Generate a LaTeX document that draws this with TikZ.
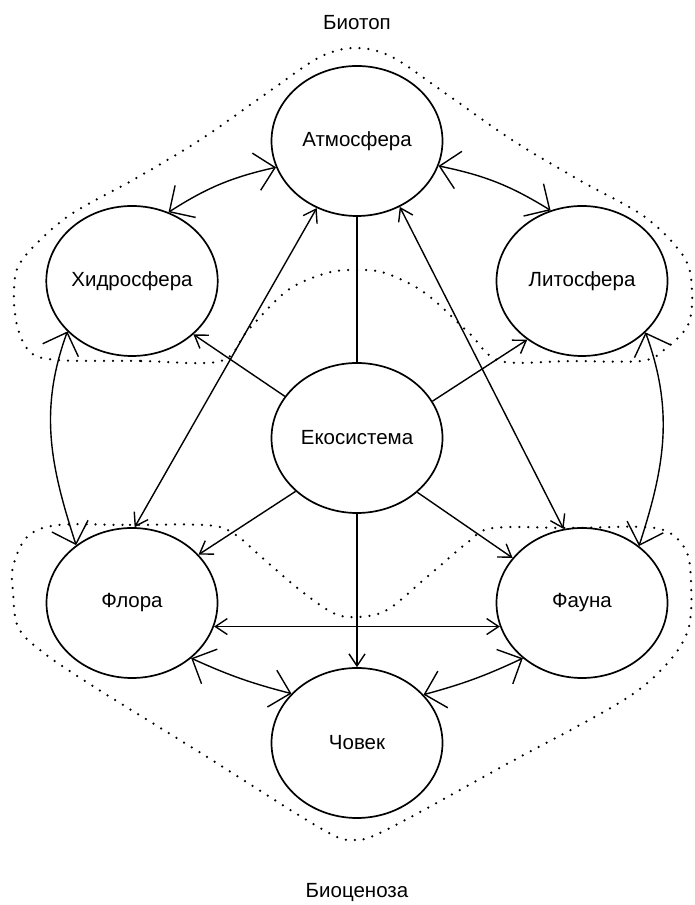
\documentclass[tikz,border=0pt]{standalone}
\usepackage{fontspec}
\setmainfont{Liberation Sans}
\usetikzlibrary{shapes.geometric,arrows.meta}
\begin{document}
\begin{tikzpicture}[x=1pt,y=1pt,
  every node/.style={font=\fontsize{20.5}{24}\selectfont},
  sphere/.style={draw, ellipse, line width=1.7pt, minimum width=171pt, minimum height=150pt, inner sep=0pt},
  region/.style={line width=2.5pt, line cap=round, dash pattern=on 0pt off 9pt},
  bigboth/.style={line width=1.4pt, {Straight Barb[length=19pt,width=38pt]}-{Straight Barb[length=19pt,width=38pt]}},
  smallboth/.style={line width=1.4pt, {Straight Barb[length=12pt,width=16pt]}-{Straight Barb[length=12pt,width=16pt]}},
  smallto/.style={line width=1.4pt, -{Straight Barb[length=12pt,width=16pt]}},
  plain/.style={line width=1.4pt}
]
\useasboundingbox (0,0) rectangle (694,905);

% regions
\draw[region] plot[smooth cycle, tension=0.55] coordinates {
 (221,544) (140,544) (58,545) (30,553) (17,580) (14,615) (22,645) (67,688)
 (133,725) (200,765) (267,812) (320,848) (356,857) (392,848) (445,812)
 (512,765) (579,725) (645,688) (684,648) (692,615) (688,580) (664,555)
 (641,544) (570,544) (500,544) (469,572) (425,612) (385,632) (356,635)
 (327,632) (288,615) (248,575)};

\draw[region] plot[smooth cycle, tension=0.55] coordinates {
 (58,380) (130,380) (205,380) (233,372) (267,343) (300,315) (333,292)
 (357,288) (387,295) (427,328) (467,362) (493,377) (570,377) (655,377)
 (684,358) (691,325) (688,275) (664,238) (619,202) (505,140) (390,77)
 (354,65) (320,77) (204,150) (88,222) (40,255) (18,278) (13,312)
 (13,338) (27,368)};

% nodes
\node[sphere] (A) at (357,764) {Атмосфера};
\node[sphere] (H) at (132,624) {Хидросфера};
\node[sphere] (L) at (582,624) {Литосфера};
\node[sphere] (E) at (357,467) {Екосистема};
\node[sphere] (F) at (132,302) {Флора};
\node[sphere] (Fa) at (582,302) {Фауна};
\node[sphere] (C) at (357,162) {Човек};
\node (bt) at (357,882) {Биотоп};
\node (bc) at (357,13) {Биоценоза};

% outer ring connectors
\draw[bigboth] (H.62) to[bend left=10] (A.198);
\draw[bigboth] (A.343) to[bend left=10] (L.114);
\draw[bigboth] (H.218) to[out=250,in=108] (F.134);
\draw[bigboth] (L.321) to[out=290,in=72] (Fa.45);
\draw[bigboth] (F.317) to[bend right=5] (C.143);
\draw[bigboth] (C.36) to[bend right=5] (Fa.223);

% inner connectors
\draw[smallboth] (F.344) -- (Fa.196);
\draw[smallboth] (F.88) -- (A.239);
\draw[smallboth] (Fa.104) -- (A.303);
\draw[plain] (E.north) -- (A.south);
\draw[smallto] (E.south) -- (C.north);
\draw[smallto] (E.150) -- (H.319);
\draw[smallto] (E.26) -- (L.227);
\draw[smallto] (E.221) -- (F.36);
\draw[smallto] (E.318) -- (Fa.147);
\end{tikzpicture}
\end{document}
